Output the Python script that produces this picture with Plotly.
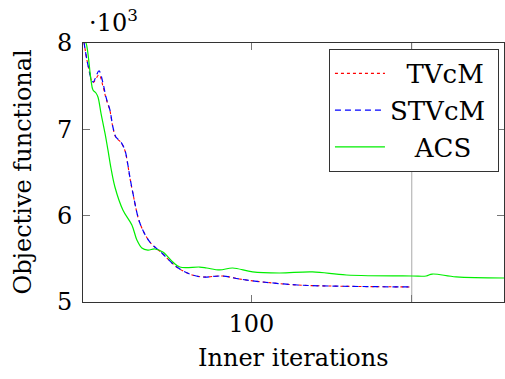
import plotly.graph_objects as go

# Data (objective functional in units of 10^3)
stvcm_x = [58.25, 59.24, 60.49, 61.98, 62.98, 63.72, 64.72, 65.46, 66.21, 67.45, 68.45, 69.20, 69.69,
           70.44, 72.18, 74.67, 77.66, 81.39, 84.62, 87.86, 92.83, 97.06, 102.79, 111.50, 119.46, 139.86]
stvcm_y = [8.01, 7.745, 7.548, 7.676, 7.537, 7.375, 7.224, 7.027, 6.911, 6.853, 6.761, 6.587, 6.448,
           6.263, 5.915, 5.695, 5.568, 5.405, 5.324, 5.290, 5.301, 5.266, 5.232, 5.197, 5.185, 5.174]

tvcm_x = [58.25, 59.24, 60.49, 61.98, 62.98, 63.72, 64.72, 65.46, 66.21, 67.45, 68.45, 69.20, 69.69,
          70.44, 72.18, 74.67, 77.66, 81.39, 84.62, 87.86, 92.83, 97.06, 102.79, 111.50, 119.46, 139.86]
tvcm_y = [8.01, 7.745, 7.54, 7.63, 7.50, 7.36, 7.215, 7.02, 6.905, 6.85, 6.755, 6.58, 6.44,
          6.26, 5.915, 5.695, 5.568, 5.405, 5.324, 5.290, 5.301, 5.266, 5.232, 5.197, 5.185, 5.174]

acs_x = [58.25, 58.75, 59.99, 60.49, 61.23, 61.73, 62.48, 63.47, 64.22, 64.97, 65.96, 67.95, 70.19, 71.44,
         72.68, 74.17, 75.92, 77.91, 80.39, 82.14, 87.11, 88.85, 92.09, 95.32, 100.30, 107.02, 115.23,
         123.69, 140.1, 143.59, 145.09, 151.06, 163.0]
acs_y = [8.03, 8.0, 7.571, 7.456, 7.421, 7.375, 7.189, 6.958, 6.761, 6.552, 6.332, 6.066, 5.892, 5.718,
         5.626, 5.602, 5.614, 5.579, 5.463, 5.405, 5.405, 5.394, 5.371, 5.394, 5.348, 5.336, 5.348,
         5.313, 5.301, 5.301, 5.324, 5.290, 5.278]

x_ticks = [100, 140]
x_ticktext = ["100", ""]
y_ticks = [5, 6, 7, 8]
marker_x = 140

FONT = "DejaVu Serif"
FS = 24
LFS = 26
NB = "\u00a0"

fig = go.Figure()
fig.add_trace(go.Scatter(x=tvcm_x, y=tvcm_y, mode="lines", name=NB * 2 + "TVcM" + NB,
                         line=dict(color="#ff0000", width=1.1, dash="dot"), line_shape="spline"))
fig.add_trace(go.Scatter(x=stvcm_x, y=stvcm_y, mode="lines", name="STVcM",
                         line=dict(color="#0000ff", width=1.2, dash="6px,4px"), line_shape="spline"))
fig.add_trace(go.Scatter(x=acs_x, y=acs_y, mode="lines", name=NB * 3 + "ACS" + NB,
                         line=dict(color="#00ee00", width=1.2), line_shape="spline"))

fig.add_shape(type="line", xref="x", yref="paper", x0=marker_x, x1=marker_x, y0=0, y1=1,
              line=dict(color="#aaaaaa", width=1), layer="below")

fig.update_layout(
    width=505, height=379,
    margin=dict(l=83, r=1, t=43, b=77),
    paper_bgcolor="white", plot_bgcolor="white",
    font=dict(family=FONT, size=FS, color="black"),
    showlegend=True,
    legend=dict(x=0.988, y=0.977, xanchor="right", yanchor="top",
                bordercolor="#333333", borderwidth=1, bgcolor="white",
                font=dict(family=FONT, size=LFS), itemwidth=50,
                tracegroupgap=0),
    xaxis=dict(range=[58, 163], tickvals=x_ticks, ticktext=x_ticktext,
               showgrid=False, zeroline=False, showline=True, linecolor="#333333", linewidth=1,
               mirror="ticks", ticks="inside", ticklen=7, tickcolor="#777777", tickwidth=1,
               tickfont=dict(family=FONT, size=FS)),
    yaxis=dict(range=[5, 8], tickvals=y_ticks,
               showgrid=False, zeroline=False, showline=True, linecolor="#333333", linewidth=1,
               mirror="ticks", ticks="inside", ticklen=7, tickcolor="#777777", tickwidth=1,
               ticklabelstandoff=5, tickfont=dict(family=FONT, size=FS)),
    annotations=[
        dict(text="Inner iterations", xref="paper", yref="paper", x=0.5, y=0, yshift=-56,
             xanchor="center", yanchor="middle", showarrow=False, font=dict(family=FONT, size=FS)),
        dict(text="Objective functional", xref="paper", yref="paper", x=0, y=0.5, xshift=-61,
             xanchor="center", yanchor="middle", textangle=-90, showarrow=False,
             font=dict(family=FONT, size=FS)),
        dict(text="·10<sup>3</sup>", xref="paper", yref="paper", x=0, y=1, xshift=4, yshift=4,
             xanchor="left", yanchor="bottom", showarrow=False, font=dict(family=FONT, size=FS)),
    ],
)

fig.write_html("out.html")
